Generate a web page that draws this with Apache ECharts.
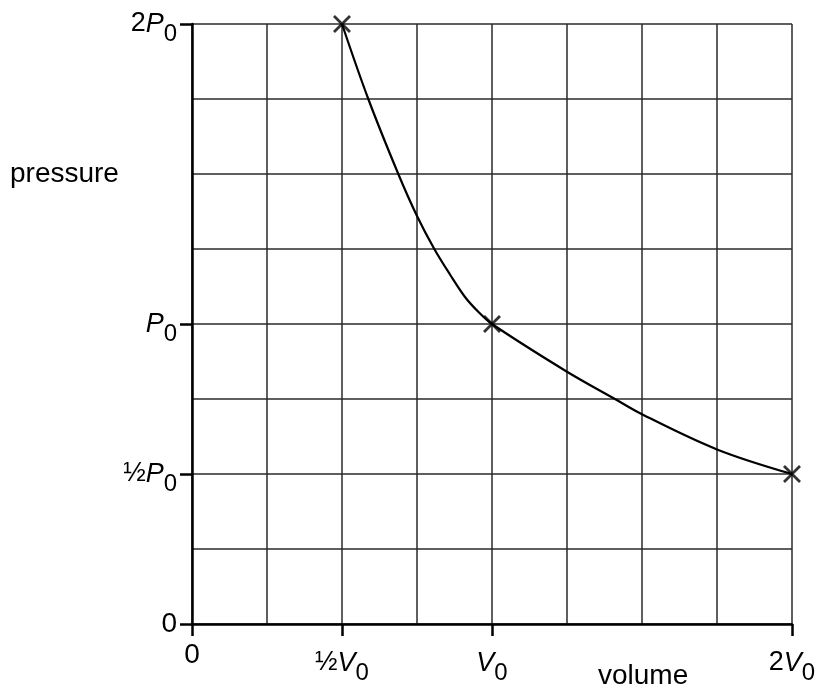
<!DOCTYPE html>
<html>
<head>
<meta charset="utf-8">
<script src="https://cdn.jsdelivr.net/npm/echarts@6/dist/echarts.min.js"></script>
<style>html,body{margin:0;padding:0;background:#fff}#c{width:819px;height:693px}</style>
</head>
<body>
<div id="c"></div>
<script>
// Data (volume in units of V0, pressure in units of P0)
const curveV = [0.5, 0.5877, 0.6877, 0.75, 0.8077, 0.86, 0.91, 0.955, 1, 1.25, 1.41, 1.5, 1.75, 2];
const curveP = [2, 1.75, 1.5, 1.36, 1.25, 1.165, 1.09, 1.04, 1, 0.841, 0.75, 0.699, 0.582, 0.5];
const markV = [0.5, 1, 2];
const markP = [2, 1, 0.5];
const xTickValues = [0, 0.5, 1, 2];
const yTickValues = [0, 0.5, 1, 2];
const xTickLabels = {0: '{z|0}', 0.5: '{n|½}{i|V}{s|0}', 1: '{i|V}{s|0}', 2: '{n|2}{i|V}{s|0}'};
const yTickLabels = {0: '{z|0}', 0.5: '{n|½}{i|P}{s|0}', 1: '{i|P}{s|0}', 2: '{n|2}{i|P}{s|0}'};
const xName = 'volume';
const yName = 'pressure';

const FONT = 'Liberation Sans, Arial, sans-serif';
const rich = {
  z: {fontSize: 28, fontFamily: FONT, color: '#000'},
  n: {fontSize: 27, fontFamily: FONT, color: '#000'},
  i: {fontSize: 27, fontFamily: FONT, fontStyle: 'italic', color: '#000'},
  s: {fontSize: 24, fontFamily: FONT, color: '#000', padding: [20, 0, 0, 0]}
};

const gridStyle = {show: true, lineStyle: {color: '#2a2a2a', width: 1.5}};
const chart = echarts.init(document.getElementById('c'), null, {renderer: 'canvas'});
chart.setOption({
  animation: false,
  backgroundColor: '#fff',
  grid: {left: 192, top: 24, width: 600, height: 600, containLabel: false},
  xAxis: [
    {
      type: 'value', min: 0, max: 2, interval: 0.25,
      axisLine: {show: false}, axisTick: {show: false}, axisLabel: {show: false},
      splitLine: gridStyle
    },
    {
      type: 'value', min: 0, max: 2, interval: 0.25, position: 'bottom',
      axisLine: {show: true, onZero: false, lineStyle: {color: '#000', width: 2.5}},
      axisTick: {show: true, customValues: xTickValues, length: 12, lineStyle: {color: '#000', width: 2.5}},
      axisLabel: {show: true, customValues: xTickValues, margin: 17,
        formatter: v => xTickLabels[v] || '', rich: rich},
      splitLine: {show: false}
    }
  ],
  yAxis: [
    {
      type: 'value', min: 0, max: 2, interval: 0.25,
      axisLine: {show: false}, axisTick: {show: false}, axisLabel: {show: false},
      splitLine: gridStyle
    },
    {
      type: 'value', min: 0, max: 2, interval: 0.25, position: 'left',
      axisLine: {show: true, onZero: false, lineStyle: {color: '#000', width: 2.5}},
      axisTick: {show: true, customValues: yTickValues, length: 12, lineStyle: {color: '#000', width: 2.5}},
      axisLabel: {show: true, customValues: yTickValues, margin: 15,
        formatter: v => yTickLabels[v] || '', rich: rich},
      splitLine: {show: false}
    }
  ],
  graphic: [
    {type: 'text', left: 10, top: 160, style: {text: yName, font: '28px ' + FONT, fill: '#000'}},
    {type: 'text', left: 598, top: 662, style: {text: xName, font: '28px ' + FONT, fill: '#000'}}
  ],
  series: [
    {
      type: 'line', smooth: 0.35, showSymbol: false, xAxisIndex: 0, yAxisIndex: 0,
      data: curveV.map((v, k) => [v, curveP[k]]),
      lineStyle: {color: '#000', width: 2.2}
    },
    {
      type: 'scatter', xAxisIndex: 0, yAxisIndex: 0,
      symbol: 'path://M0,0 L10,10 M10,0 L0,10',
      symbolSize: 16,
      data: markV.map((v, k) => [v, markP[k]]),
      itemStyle: {color: 'none', borderColor: '#000', borderWidth: 2.8},
      z: 5
    }
  ]
});
</script>
</body>
</html>
